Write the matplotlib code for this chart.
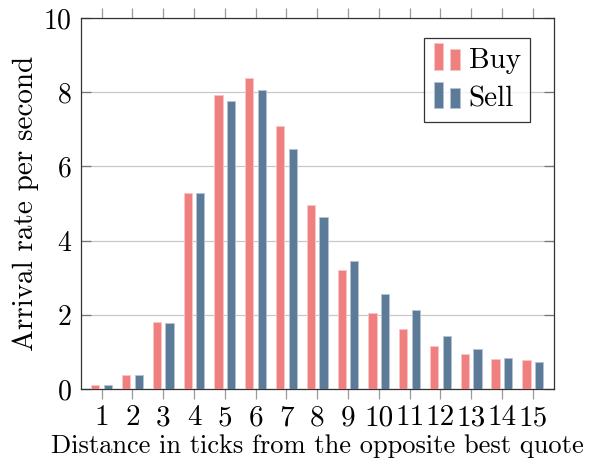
import matplotlib
matplotlib.use("Agg")
import matplotlib.pyplot as plt
import numpy as np
from matplotlib.legend_handler import HandlerBase
from matplotlib.patches import Rectangle

distances = list(range(1, 16))
buy = [0.11, 0.37, 1.81, 5.28, 7.93, 8.37, 7.09, 4.95, 3.22, 2.06, 1.63, 1.15, 0.93, 0.82, 0.77]
sell = [0.10, 0.37, 1.77, 5.27, 7.77, 8.06, 6.46, 4.63, 3.45, 2.55, 2.12, 1.43, 1.08, 0.84, 0.73]
series_names = ["Buy", "Sell"]
colors = ["#F08080", "#5B7B99"]
edge_colors = ["#F9C6C6", "#B5C3D2"]

plt.rcParams['font.family'] = ['cmr10', 'DejaVu Serif']
plt.rcParams['mathtext.fontset'] = 'cm'
plt.rcParams['axes.formatter.use_mathtext'] = True

FS = 19
YFS = 21
XTFS = 21
YTFS = 20
LFS = 21

fig = plt.figure(figsize=(5.93, 4.68), dpi=100)
ax = fig.add_axes([81/593, 1-389/468, (554-81)/593, (389-18)/468])

x = np.array(distances, dtype=float)
off = 0.205
w = 0.27
ax.bar(x - off, buy, width=w, color=colors[0], edgecolor=edge_colors[0], linewidth=0.6, label=series_names[0], zorder=3)
ax.bar(x + off, sell, width=w, color=colors[1], edgecolor=edge_colors[1], linewidth=0.6, label=series_names[1], zorder=3)

ax.set_xlim(0.33, 15.69)
ax.set_ylim(0, 10)
ax.set_xticks(distances)
ax.set_xticklabels([str(d) for d in distances])
ax.set_yticks([0, 2, 4, 6, 8, 10])
ax.set_yticklabels(["0", "2", "4", "6", "8", "10"])
ax.yaxis.grid(True, color="#C8C8C8", linewidth=0.9, zorder=0)
ax.set_axisbelow(True)

ax.tick_params(axis='x', which='both', direction='out', length=7.5, width=0.9, color='#999999',
               top=True, bottom=True, labelsize=XTFS, pad=4)
ax.tick_params(axis='y', which='both', direction='in', length=7.5, width=0.9, color='#777777',
               left=True, right=True, labelsize=YTFS, pad=7)
for s in ax.spines.values():
    s.set_color('#333333')
    s.set_linewidth(0.9)

ax.set_xlabel("Distance in ticks from the opposite best quote", fontsize=FS, labelpad=2)
ax.set_ylabel("Arrival rate per second", fontsize=YFS, labelpad=3)


class DoubleBarHandler(HandlerBase):
    def __init__(self, color, ec):
        super().__init__()
        self.color = color
        self.ec = ec

    def create_artists(self, legend, orig_handle, xdescent, ydescent, width, height, fontsize, trans):
        bw = width * 0.36
        r1 = Rectangle((-xdescent, -ydescent - height * 0.1), bw, height * 1.3, facecolor=self.color,
                       edgecolor=self.ec, linewidth=0.6, transform=trans)
        r2 = Rectangle((-xdescent + width * 0.64, -ydescent - height * 0.1), bw, height * 1.0, facecolor=self.color,
                       edgecolor=self.ec, linewidth=0.6, transform=trans)
        return [r1, r2]


handles, labels = ax.get_legend_handles_labels()
leg = ax.legend(handles, labels, loc='upper right', bbox_to_anchor=(0.949, 0.946),
                fontsize=LFS, frameon=True, fancybox=False, edgecolor='black', borderaxespad=0,
                handlelength=0.9, handletextpad=0.3, borderpad=0.32, labelspacing=0.42,
                handler_map={handles[0]: DoubleBarHandler(colors[0], edge_colors[0]),
                             handles[1]: DoubleBarHandler(colors[1], edge_colors[1])})
leg.get_frame().set_linewidth(0.9)

fig.savefig("out.png", dpi=100)
